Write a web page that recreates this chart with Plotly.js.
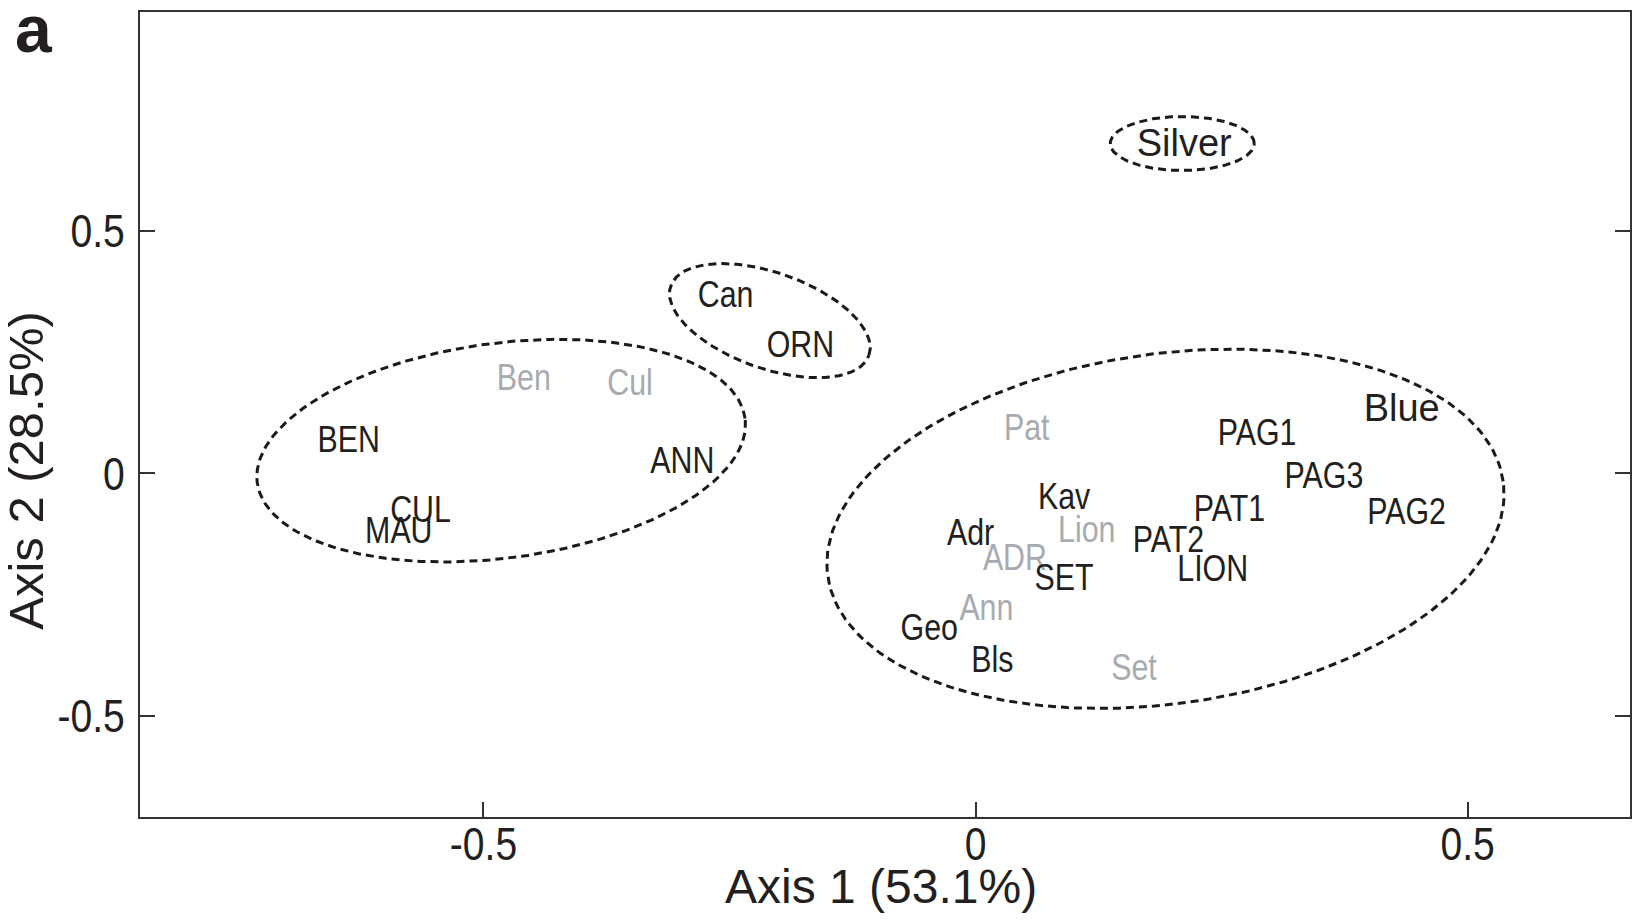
<!DOCTYPE html>
<html>
<head>
<meta charset="utf-8">
<script src="https://cdn.plot.ly/plotly-3.0.1.min.js"></script>
<style>
  html, body { margin: 0; padding: 0; background: #ffffff; }
  #chart { width: 1632px; height: 920px; }
</style>
</head>
<body>
<div id="chart"></div>
<script>
// ---- Data ----
const darkNames = ["Can", "ORN", "BEN", "ANN", "CUL", "MAU", "PAG1", "PAG3", "Kav", "PAT1", "PAG2", "Adr", "PAT2", "SET", "LION", "Geo", "Bls"];
const darkX     = [-0.254, -0.178, -0.637, -0.298, -0.564, -0.586, 0.286, 0.354, 0.090, 0.258, 0.438, -0.005, 0.196, 0.090, 0.241, -0.047, 0.017];
const darkY     = [0.363, 0.260, 0.063, 0.020, -0.081, -0.124, 0.078, -0.010, -0.055, -0.079, -0.085, -0.128, -0.143, -0.221, -0.203, -0.324, -0.390];

const greyNames = ["Ben", "Cul", "Pat", "Lion", "ADR", "Ann", "Set"];
const greyX     = [-0.459, -0.351, 0.052, 0.113, 0.040, 0.011, 0.161];
const greyY     = [0.191, 0.181, 0.088, -0.122, -0.180, -0.283, -0.407];

const bigNames = ["Silver", "Blue"];
const bigX     = [0.212, 0.433];
const bigY     = [0.673, 0.128];

// Group ellipses: centre (data units), semi-axes (pixels), rotation (degrees)
const ellCx  = [-0.482, -0.209, 0.210, 0.193];
const ellCy  = [0.047, 0.315, 0.680, -0.114];
const ellA   = [246, 105, 72, 341];
const ellB   = [107.5, 48, 27, 175];
const ellAng = [7.5, -19.3, 0, 8];

const xTicks = [-0.5, 0, 0.5];
const yTicks = [-0.5, 0, 0.5];
const xRange = [-0.849, 0.665];
const yRange = [-0.708, 0.951];

const xTitle = 'Axis 1 (53.1%)';
const yTitle = 'Axis 2 (28.5%)';

// ---- Layout geometry ----
const W = 1632, H = 920;
const margin = {l: 140, r: 2, t: 12, b: 103, pad: 0};
const plotW = W - margin.l - margin.r;
const plotH = H - margin.t - margin.b;
const kx = plotW / (xRange[1] - xRange[0]);
const ky = plotH / (yRange[1] - yRange[0]);

const font = '"Liberation Sans", Arial, Helvetica, sans-serif';
const NARROW_LABEL = 0.82; // horizontal condensing (Arial Narrow look)
const NARROW_TICK = 0.85;

const traces = [];
for (let i = 0; i < ellCx.length; i++) {
  const xs = [], ys = [];
  const th = ellAng[i] * Math.PI / 180;
  const N = 240;
  for (let k = 0; k <= N; k++) {
    const t = 2 * Math.PI * k / N;
    const dx = ellA[i] * Math.cos(t) * Math.cos(th) - ellB[i] * Math.sin(t) * Math.sin(th);
    const dy = ellA[i] * Math.cos(t) * Math.sin(th) + ellB[i] * Math.sin(t) * Math.cos(th);
    xs.push(ellCx[i] + dx / kx);
    ys.push(ellCy[i] + dy / ky);
  }
  traces.push({
    x: xs, y: ys, mode: 'lines', type: 'scatter', hoverinfo: 'skip',
    line: {color: '#1a1a1a', width: 3, dash: '8px,5px'}, showlegend: false
  });
}

traces.push({
  x: greyX, y: greyY, text: greyNames, mode: 'text', type: 'scatter',
  textposition: 'middle center', showlegend: false,
  textfont: {family: font, size: 37, color: '#a7abb0'}
});
traces.push({
  x: darkX, y: darkY, text: darkNames, mode: 'text', type: 'scatter',
  textposition: 'middle center', showlegend: false,
  textfont: {family: font, size: 37, color: '#231f20'}
});
traces.push({
  x: bigX, y: bigY, text: bigNames, mode: 'text', type: 'scatter',
  textposition: 'middle center', showlegend: false,
  textfont: {family: font, size: 38, color: '#231f20'}
});

const axisCommon = {
  showgrid: false, zeroline: false, showline: true, linecolor: '#333333', linewidth: 2,
  ticks: 'inside', ticklen: 15, tickwidth: 2, tickcolor: '#333333',
  tickfont: {family: font, size: 46, color: '#231f20'}
};

const layout = {
  width: W, height: H, margin: margin,
  paper_bgcolor: '#ffffff', plot_bgcolor: '#ffffff',
  xaxis: Object.assign({}, axisCommon, {
    range: xRange, tickmode: 'array', tickvals: xTicks, ticktext: xTicks.map(String),
    mirror: true, ticklabelstandoff: -14
  }),
  yaxis: Object.assign({}, axisCommon, {
    range: yRange, tickmode: 'array', tickvals: yTicks, ticktext: yTicks.map(String),
    mirror: 'ticks', ticklabelstandoff: 4
  }),
  annotations: [
    {
      text: '<b>a</b>', xref: 'paper', yref: 'paper', x: -0.0852, y: 0.979,
      xanchor: 'left', yanchor: 'middle', showarrow: false,
      font: {family: font, size: 66, color: '#231f20'}
    },
    {
      text: xTitle, xref: 'paper', yref: 'paper', x: 0.4973, y: -0.0863,
      xanchor: 'center', yanchor: 'middle', showarrow: false,
      font: {family: font, size: 48, color: '#231f20'}
    },
    {
      text: yTitle, xref: 'paper', yref: 'paper', x: -0.077, y: 0.4304,
      xanchor: 'center', yanchor: 'middle', textangle: -90, showarrow: false,
      font: {family: font, size: 49, color: '#231f20'}
    }
  ]
};

Plotly.newPlot('chart', traces, layout, {displayModeBar: false, staticPlot: true}).then(function (gd) {
  const condense = function (factor) {
    return function (el) {
      const len = el.getComputedTextLength();
      if (len > 0) {
        el.setAttribute('textLength', (len * factor).toFixed(2));
        el.setAttribute('lengthAdjust', 'spacingAndGlyphs');
      }
    };
  };
  const layers = gd.querySelectorAll('.scatterlayer .trace');
  [4, 5].forEach(function (i) {
    if (layers[i]) layers[i].querySelectorAll('.textpoint text').forEach(condense(NARROW_LABEL));
  });
  gd.querySelectorAll('.xtick text, .ytick text').forEach(condense(NARROW_TICK));
});
</script>
</body>
</html>
